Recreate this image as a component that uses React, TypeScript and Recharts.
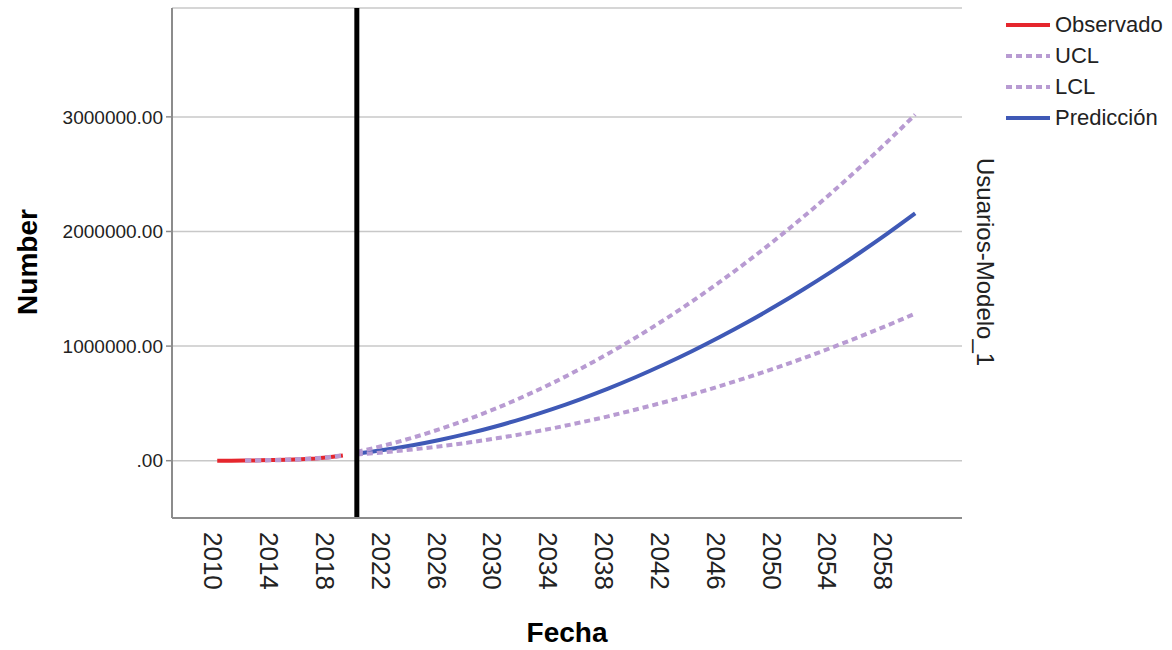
import { LineChart, Line, XAxis, YAxis, CartesianGrid, ReferenceLine } from 'recharts';

const FONT = "'Liberation Sans', Arial, sans-serif";

const RED = '#e5262d';
const PURPLE = '#b89bd2';
const BLUE = '#3f59b6';

// observed period
const observedYears = [2010, 2011, 2012, 2013, 2014, 2015, 2016, 2017, 2018, 2019];
const observed = [0, 500, 1500, 3000, 5000, 8000, 13000, 20000, 30000, 45000];

// fitted bounds over the observed period
const fitYears = [2012, 2013, 2014, 2015, 2016, 2017, 2018, 2019];
const fitUpper = [2000, 4000, 6500, 10000, 15000, 22000, 32000, 47000];
const fitLower = [1000, 2000, 3500, 6000, 11000, 18000, 28000, 43000];

// forecast
const forecastYears = [
  2020, 2022, 2024, 2026, 2028, 2030, 2032, 2034, 2036, 2038, 2040,
  2042, 2044, 2046, 2048, 2050, 2052, 2054, 2056, 2058, 2060,
];
const prediction = [
  62000, 95000, 135000, 183000, 238000, 301000, 372000, 450000, 536000, 629000, 730000,
  839000, 955000, 1079000, 1210000, 1349000, 1496000, 1650000, 1812000, 1981000, 2158000,
];
const ucl = [
  77000, 134000, 201000, 278000, 363000, 458000, 563000, 677000, 801000, 934000, 1076000,
  1228000, 1389000, 1560000, 1740000, 1930000, 2129000, 2337000, 2556000, 2783000, 3020000,
];
const lcl = [
  55000, 74000, 98000, 126000, 158000, 195000, 236000, 282000, 333000, 387000, 447000,
  510000, 578000, 651000, 728000, 809000, 895000, 986000, 1081000, 1180000, 1284000,
];

const forecastStart = 2020;
const yearTicks = [2010, 2014, 2018, 2022, 2026, 2030, 2034, 2038, 2042, 2046, 2050, 2054, 2058];
const valueTicks = [0, 1000000, 2000000, 3000000];

const legendItems = [
  { label: 'Observado', color: RED, dashed: false },
  { label: 'UCL', color: PURPLE, dashed: true },
  { label: 'LCL', color: PURPLE, dashed: true },
  { label: 'Predicción', color: BLUE, dashed: false },
];

type Row = {
  year: number;
  observed?: number;
  fitUpper?: number;
  fitLower?: number;
  prediction?: number;
  ucl?: number;
  lcl?: number;
};

function buildRows(): Row[] {
  const rows: Record<number, Row> = {};
  const get = (y: number) => (rows[y] = rows[y] || { year: y });
  observedYears.forEach((y, i) => (get(y).observed = observed[i]));
  fitYears.forEach((y, i) => {
    get(y).fitUpper = fitUpper[i];
    get(y).fitLower = fitLower[i];
  });
  forecastYears.forEach((y, i) => {
    const r = get(y);
    r.prediction = prediction[i];
    r.ucl = ucl[i];
    r.lcl = lcl[i];
  });
  return Object.values(rows).sort((a, b) => a.year - b.year);
}

const data = buildRows();

function YearTick(props: any) {
  const { x, y, payload } = props;
  const tx = x - 4;
  const ty = y + 6;
  return (
    <text
      x={tx}
      y={ty}
      transform={`rotate(90, ${tx}, ${ty})`}
      textAnchor="start"
      dominantBaseline="central"
      fontSize={26}
      fontFamily={FONT}
      fill="#222"
    >
      {payload.value}
    </text>
  );
}

const formatValue = (v: number) => (v === 0 ? '.00' : v.toFixed(2));

export default function App() {
  return (
    <div style={{ position: 'absolute', left: 0, top: 0, width: 1172, height: 650, background: '#fff', fontFamily: FONT }}>
      <LineChart width={1172} height={650} data={data} margin={{ top: 8, right: 210, bottom: 0, left: 0 }}>
        <CartesianGrid vertical={false} stroke="#c8c8c8" strokeWidth={1.5} />
        <XAxis
          dataKey="year"
          type="number"
          domain={[2006.76, 2063.35]}
          allowDataOverflow
          ticks={yearTicks}
          tick={<YearTick />}
          tickLine={false}
          height={132}
          axisLine={{ stroke: '#8c8c8c', strokeWidth: 2 }}
        />
        <YAxis
          type="number"
          domain={[-500000, 3950000]}
          allowDataOverflow
          ticks={valueTicks}
          tickFormatter={formatValue}
          width={172}
          tickSize={6}
          tickMargin={3}
          tick={{ fontSize: 19, fill: '#222', fontFamily: FONT }}
          tickLine={{ stroke: '#8c8c8c', strokeWidth: 1.5 }}
          axisLine={{ stroke: '#8c8c8c', strokeWidth: 2 }}
        />
        <Line dataKey="observed" stroke={RED} strokeWidth={4} dot={false} isAnimationActive={false} />
        <Line dataKey="fitUpper" stroke={PURPLE} strokeWidth={4} strokeDasharray="6 4" dot={false} isAnimationActive={false} />
        <Line dataKey="fitLower" stroke={PURPLE} strokeWidth={4} strokeDasharray="6 4" dot={false} isAnimationActive={false} />
        <Line type="monotone" dataKey="prediction" stroke={BLUE} strokeWidth={4} dot={false} isAnimationActive={false} />
        <Line type="monotone" dataKey="ucl" stroke={PURPLE} strokeWidth={4} strokeDasharray="6 4" dot={false} isAnimationActive={false} />
        <Line type="monotone" dataKey="lcl" stroke={PURPLE} strokeWidth={4} strokeDasharray="6 4" dot={false} isAnimationActive={false} />
        <ReferenceLine x={forecastStart} stroke="#000" strokeWidth={5} />
      </LineChart>

      {/* axis titles */}
      <div
        style={{
          position: 'absolute', left: 28, top: 262, transform: 'translate(-50%, -50%) rotate(-90deg)',
          fontSize: 28, fontWeight: 'bold', whiteSpace: 'nowrap', color: '#000',
        }}
      >
        Number
      </div>
      <div
        style={{
          position: 'absolute', left: 567, top: 633, transform: 'translate(-50%, -50%)',
          fontSize: 28, fontWeight: 'bold', whiteSpace: 'nowrap', color: '#000',
        }}
      >
        Fecha
      </div>
      <div
        style={{
          position: 'absolute', left: 971, top: 158, writingMode: 'vertical-rl',
          fontSize: 24, whiteSpace: 'nowrap', color: '#222',
        }}
      >
        Usuarios-Modelo_1
      </div>

      {/* legend */}
      <div style={{ position: 'absolute', left: 1006, top: 9 }}>
        {legendItems.map((item) => (
          <div key={item.label} style={{ display: 'flex', alignItems: 'center', height: 31 }}>
            <svg width={44} height={6} style={{ marginRight: 5 }}>
              <line
                x1={0} y1={3} x2={44} y2={3}
                stroke={item.color} strokeWidth={4}
                strokeDasharray={item.dashed ? '6 4' : undefined}
              />
            </svg>
            <span style={{ fontSize: 22, color: '#222', whiteSpace: 'nowrap' }}>{item.label}</span>
          </div>
        ))}
      </div>
    </div>
  );
}
